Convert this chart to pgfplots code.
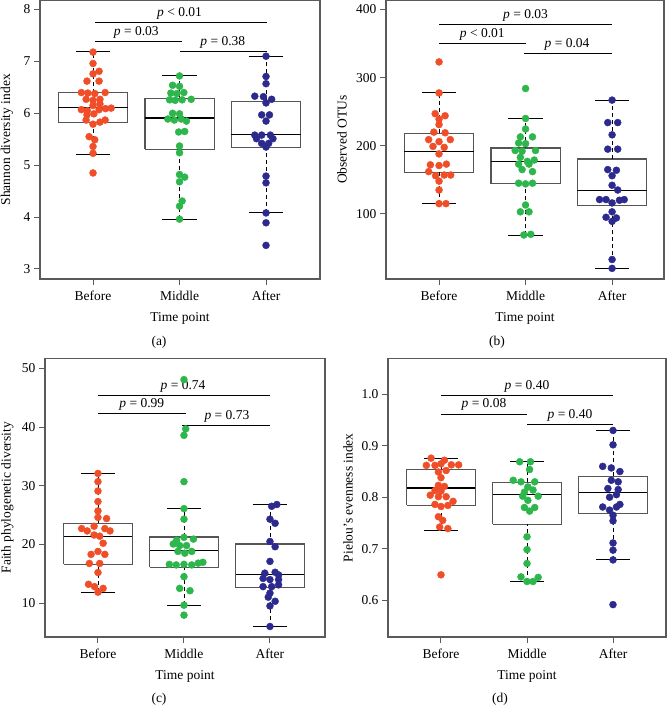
\documentclass[border=0pt]{standalone}
\usepackage{fontspec}
\setmainfont{Liberation Serif}
\usepackage{pgfplots}
\pgfplotsset{compat=1.18}
\usetikzlibrary{calc}
\definecolor{cred}{RGB}{240,78,40}
\definecolor{cgreen}{RGB}{44,182,76}
\definecolor{cblue}{RGB}{45,42,142}
\definecolor{framec}{RGB}{90,90,90}
\definecolor{boxc}{RGB}{85,85,85}
\newcommand{\fs}{\fontsize{13.5}{16}\selectfont}
\newcommand{\drawbox}[6]{%
  \pgfmathsetmacro\bL{#1-0.4}\pgfmathsetmacro\bR{#1+0.4}%
  \pgfmathsetmacro\cL{#1-0.2}\pgfmathsetmacro\cR{#1+0.2}%
  \addplot[boxc, line width=1.2pt] coordinates {(\bL,#3) (\bR,#3) (\bR,#5) (\bL,#5) (\bL,#3)};
  \addplot[black, line width=1.1pt] coordinates {(\bL,#4) (\bR,#4)};
  \addplot[black, line width=0.9pt, dash pattern=on 4pt off 3pt] coordinates {(#1,#2) (#1,#3)};
  \addplot[black, line width=0.9pt, dash pattern=on 4pt off 3pt] coordinates {(#1,#5) (#1,#6)};
  \addplot[black, line width=1pt] coordinates {(\cL,#2) (\cR,#2)};
  \addplot[black, line width=1pt] coordinates {(\cL,#6) (\cR,#6)};
}
\pgfplotsset{panel/.style={
  scale only axis, anchor=south west, height=278.5pt,
  axis line style={draw=framec, line width=1.3pt},
  major tick style={draw=framec, line width=1pt},
  tick align=outside, major tick length=6pt,
  xtick pos=bottom, ytick pos=left,
  xtick={1,2,3}, xticklabels={Before,Middle,After},
  ticklabel style={font=\fs},
  label style={font=\fs},
  /pgf/number format/assume math mode=true,
  xlabel={Time point},
  xlabel style={at={($(rel axis cs:0.5,0)+(0pt,-39pt)$)}, anchor=center},
  xticklabel style={yshift=-2.5pt},
  yticklabel style={xshift=0pt},
  clip=false,
  pts/.style={only marks, mark=*, mark size=3.5pt},
}}
\begin{document}
\begin{tikzpicture}[x=1pt,y=1pt]
\useasboundingbox (0,0) rectangle (667,717);
% ---------------- (a)
\begin{axis}[panel, at={(40pt,438pt)}, width=280pt,
  xmin=0.387, xmax=3.624, ymin=2.807, ymax=8.174,
  ytick={3,4,5,6,7,8},
  ylabel={Shannon diversity index},
  ylabel style={at={($(rel axis cs:0,0.5)+(-33pt,0pt)$)}, anchor=center}]
\drawbox{1}{5.215}{5.83}{6.12}{6.395}{7.19}
\drawbox{2}{3.96}{5.31}{5.91}{6.285}{6.72}
\drawbox{3}{4.08}{5.34}{5.60}{6.23}{7.10}
\addplot[pts, color=cred] coordinates {(1,7.18)(1,6.96)(1,6.76)(1.07,6.81)(0.93,6.62)(1.07,6.62)(0.865,6.40)(0.94,6.39)(1.02,6.38)(1.14,6.40)(0.92,6.27)(1,6.25)(1.08,6.27)(1.08,6.18)(1,6.15)(0.865,6.07)(0.935,6.05)(1.07,6.07)(1.145,6.09)(1.21,6.10)(0.93,5.97)(1.01,5.99)(0.92,5.87)(1,5.79)(1.08,5.83)(1.14,5.87)(0.955,5.55)(1.02,5.49)(1,5.36)(1,5.23)(1,4.85)};
\addplot[pts, color=cgreen] coordinates {(2,6.72)(1.92,6.54)(2,6.52)(1.90,6.39)(1.97,6.38)(2.05,6.40)(1.885,6.26)(1.95,6.25)(2.03,6.26)(2.135,6.27)(1.92,6.00)(2,5.99)(1.865,5.89)(1.94,5.87)(2.02,5.89)(2.08,5.85)(2.06,5.65)(1.99,5.64)(2,5.37)(2,5.24)(2,4.82)(2.06,4.77)(2,4.68)(2.03,4.31)(2,4.21)(2,3.96)};
\addplot[pts, color=cblue] coordinates {(3,7.10)(3,6.71)(3,6.57)(2.87,6.33)(2.97,6.32)(3.065,6.27)(3,6.20)(2.95,5.97)(3.04,5.97)(3,5.85)(2.87,5.58)(2.95,5.58)(3.05,5.58)(2.89,5.51)(3.08,5.51)(2.95,5.42)(3.03,5.42)(3,5.35)(3,4.79)(3,4.66)(3,4.08)(3,3.89)(3,3.455)};
\addplot[black, line width=0.9pt] coordinates {(1.02,7.75) (3.01,7.75)};
\addplot[black, line width=0.9pt] coordinates {(1.02,7.38) (2.03,7.38)};
\addplot[black, line width=0.9pt] coordinates {(2.0,7.19) (3.01,7.19)};
\node[font=\fs, anchor=base, yshift=6pt] at (axis cs:2,7.75) {\textit{p} < 0.01};
\node[font=\fs, anchor=base, yshift=6pt] at (axis cs:1.5,7.38) {\textit{p} = 0.03};
\node[font=\fs, anchor=base, yshift=6pt] at (axis cs:2.5,7.19) {\textit{p} = 0.38};
\end{axis}
% ---------------- (b)
\begin{axis}[panel, at={(386pt,438pt)}, width=278pt,
  xmin=0.387, xmax=3.60, ymin=4.4, ymax=413.2,
  ytick={100,200,300,400},
  ylabel={Observed OTUs},
  ylabel style={at={($(rel axis cs:0,0.5)+(-44pt,0pt)$)}, anchor=center}]
\drawbox{1}{114.7}{161.3}{191.2}{218.2}{277.5}
\drawbox{2}{68.6}{144.1}{177.5}{196.6}{240.2}
\drawbox{3}{19.6}{111.8}{134.8}{180.4}{266.7}
\addplot[pts, color=cred] coordinates {(1,323)(1,277.5)(0.955,247)(1.07,244)(1,239)(1,231)(0.94,220)(1.07,219)(0.88,209)(1,206)(1.13,209)(0.93,199)(1.06,197.6)(1,188)(0.9,172)(1,171)(1.085,173)(0.88,162)(0.96,156)(1.06,157)(1.135,157)(1,148)(1,135)(1,115)(1.08,115)};
\addplot[pts, color=cgreen] coordinates {(2,284)(2,240)(2,224.5)(1.94,213)(2.08,213)(1.92,204)(2,203)(1.88,193)(1.96,192)(2.115,193)(1.94,183)(2.02,177)(2.1,179)(1.92,173)(2.04,173)(1.96,165)(2.08,162)(1.92,145)(2,144)(2.08,145)(2,113)(1.94,103)(2.04,103)(1.98,69)(2.06,70)};
\addplot[pts, color=cblue] coordinates {(3,267)(2.95,234)(3.065,234)(3,216)(2.95,195)(3.065,195)(2.95,165)(3.05,164)(3,156)(3,142)(3.065,135)(2.855,121)(2.93,121)(3,116)(3.085,120)(3.14,121)(3,103)(2.93,95)(3.05,94)(3,89)(3,33)(3,20)};
\addplot[black, line width=0.9pt] coordinates {(1.0,378) (3.0,378)};
\addplot[black, line width=0.9pt] coordinates {(1.0,350.5) (2.0,350.5)};
\addplot[black, line width=0.9pt] coordinates {(1.98,334.8) (3.0,334.8)};
\node[font=\fs, anchor=base, yshift=6pt] at (axis cs:2,378) {\textit{p} = 0.03};
\node[font=\fs, anchor=base, yshift=6pt] at (axis cs:1.5,350.5) {\textit{p} < 0.01};
\node[font=\fs, anchor=base, yshift=6pt] at (axis cs:2.48,334.8) {\textit{p} = 0.04};
\end{axis}
% ---------------- (c)
\begin{axis}[panel, at={(45pt,80pt)}, width=280pt,
  xmin=0.384, xmax=3.64, ymin=4.21, ymax=51.7,
  ytick={10,20,30,40,50},
  ylabel={Faith phylogenetic diversity},
  ylabel style={at={($(rel axis cs:0,0.5)+(-37.5pt,0pt)$)}, anchor=center}]
\drawbox{1}{11.85}{16.6}{21.4}{23.6}{32.1}
\drawbox{2}{9.64}{16.1}{19.0}{21.26}{26.1}
\drawbox{3}{6.0}{12.65}{14.8}{20.07}{26.8}
\addplot[pts, color=cred] coordinates {(1,32.1)(1,30.7)(1,29.1)(1,27.3)(1,25.7)(1,24.6)(1.1,24.4)(0.81,22.7)(0.875,22.3)(0.955,23.1)(1.08,22.7)(1.14,22.3)(0.955,21.6)(1.02,21.4)(1.06,20.2)(1,18.8)(0.92,18.3)(1.08,18.3)(0.9,16.75)(1.02,16.75)(1,15.2)(0.89,13.2)(0.96,12.8)(1.06,12.5)(1,11.85)};
\addplot[pts, color=cgreen] coordinates {(2,48.1)(2.02,39.7)(2,38.6)(2,30.7)(2,26.1)(2,24.3)(1.915,20.7)(2,21.2)(2.11,20.9)(1.875,20.07)(1.95,19.8)(2.03,19.8)(1.93,18.8)(2.01,18.5)(2.09,18.8)(1.83,16.6)(1.91,16.5)(2,16.6)(2.09,16.5)(2.165,16.8)(2.22,16.95)(2,14.5)(1.95,12.5)(2.07,12.1)(2,9.64)(2,7.94)};
\addplot[pts, color=cblue] coordinates {(3.02,26.5)(3.08,26.8)(3,24.3)(3.06,23.6)(3,20.5)(3.06,19.6)(3,17.1)(2.94,15.1)(3.06,15.25)(3.1,14.8)(2.92,14.2)(3,14.0)(3.1,14.0)(2.92,12.8)(3.02,12.8)(3.1,13.1)(3,11.7)(2.98,11.0)(3.06,10.3)(3,9.5)(3,6.0)};
\addplot[black, line width=0.9pt] coordinates {(1.0,45.4) (3.0,45.4)};
\addplot[black, line width=0.9pt] coordinates {(1.0,42.3) (2.02,42.3)};
\addplot[black, line width=0.9pt] coordinates {(1.98,40.35) (3.0,40.35)};
\node[font=\fs, anchor=base, yshift=6pt] at (axis cs:1.99,45.4) {\textit{p} = 0.74};
\node[font=\fs, anchor=base, yshift=6pt] at (axis cs:1.51,42.3) {\textit{p} = 0.99};
\node[font=\fs, anchor=base, yshift=6pt] at (axis cs:2.5,40.35) {\textit{p} = 0.73};
\end{axis}
% ---------------- (d)
\begin{axis}[panel, at={(388pt,80pt)}, width=278pt,
  xmin=0.384, xmax=3.616, ymin=0.528, ymax=1.070,
  ytick={0.6,0.7,0.8,0.9,1.0},
  yticklabel style={/pgf/number format/fixed, /pgf/number format/fixed zerofill, /pgf/number format/precision=1},
  ylabel={Pielou's evenness index},
  ylabel style={at={($(rel axis cs:0,0.5)+(-40pt,0pt)$)}, anchor=center}]
\drawbox{1}{0.735}{0.784}{0.818}{0.854}{0.876}
\drawbox{2}{0.636}{0.747}{0.805}{0.829}{0.869}
\drawbox{3}{0.678}{0.768}{0.809}{0.841}{0.930}
\addplot[pts, color=cred] coordinates {(0.885,0.876)(1.04,0.872)(0.83,0.862)(0.93,0.862)(1,0.865)(1.12,0.863)(1.205,0.863)(0.97,0.849)(1.06,0.852)(1,0.838)(0.97,0.823)(1.04,0.821)(0.93,0.813)(1,0.812)(0.875,0.804)(0.97,0.801)(1.06,0.801)(1.14,0.792)(0.93,0.786)(1,0.782)(1.08,0.784)(0.97,0.762)(1.02,0.755)(0.985,0.742)(1.08,0.739)(1,0.649)};
\addplot[pts, color=cgreen] coordinates {(1.915,0.869)(2.04,0.869)(2.03,0.854)(1.84,0.833)(1.93,0.830)(2.09,0.830)(2.01,0.820)(1.97,0.810)(2.07,0.814)(1.95,0.802)(2.13,0.802)(2.01,0.794)(1.97,0.780)(2.09,0.780)(2.03,0.773)(2,0.723)(2,0.698)(2,0.671)(1.93,0.645)(2,0.636)(2.13,0.644)(2.07,0.636)};
\addplot[pts, color=cblue] coordinates {(3,0.930)(3,0.902)(2.88,0.860)(2.98,0.857)(3.08,0.850)(2.98,0.833)(3.06,0.830)(2.94,0.817)(3.06,0.815)(2.96,0.800)(3.04,0.805)(2.88,0.781)(2.96,0.775)(3.04,0.781)(3.08,0.786)(3,0.765)(3,0.754)(3,0.711)(3,0.697)(3,0.678)(3,0.591)};
\addplot[black, line width=0.9pt] coordinates {(1.0,0.998) (3.0,0.998)};
\addplot[black, line width=0.9pt] coordinates {(1.0,0.962) (2.0,0.962)};
\addplot[black, line width=0.9pt] coordinates {(2.0,0.941) (3.0,0.941)};
\node[font=\fs, anchor=base, yshift=6pt] at (axis cs:2,0.998) {\textit{p} = 0.40};
\node[font=\fs, anchor=base, yshift=6pt] at (axis cs:1.5,0.962) {\textit{p} = 0.08};
\node[font=\fs, anchor=base, yshift=6pt] at (axis cs:2.5,0.941) {\textit{p} = 0.40};
\end{axis}
\node[font=\fs] at (159,375) {(a)};
\node[font=\fs] at (497,375) {(b)};
\node[font=\fs] at (159,18) {(c)};
\node[font=\fs] at (500,18) {(d)};
\end{tikzpicture}
\end{document}
